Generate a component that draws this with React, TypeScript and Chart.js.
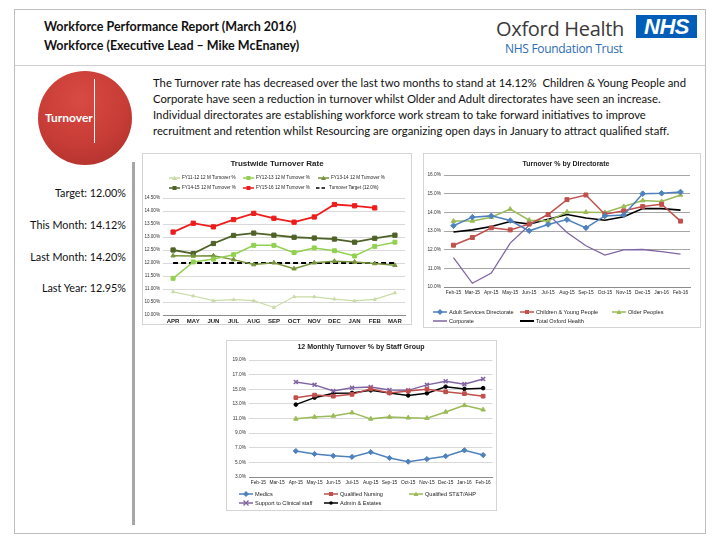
import React, { useEffect, useRef } from "react";
import { Chart, registerables } from "chart.js";
Chart.register(...registerables);

const CHART_FONT = "'Liberation Sans', Arial, sans-serif";
const SLIDE_FONT = "Lato, 'Open Sans', sans-serif";

// ---- Trustwide Turnover Rate ----
const fyMonths = ["APR", "MAY", "JUN", "JUL", "AUG", "SEP", "OCT", "NOV", "DEC", "JAN", "FEB", "MAR"];
const fy1112 = [10.89, 10.73, 10.55, 10.59, 10.55, 10.29, 10.7, 10.7, 10.61, 10.54, 10.6, 10.85];
const fy1213 = [11.41, 12.04, 12.15, 12.32, 12.68, 12.68, 12.4, 12.58, 12.47, 12.27, 12.64, 12.8];
const fy1314 = [12.28, 12.27, 12.28, 12.13, 11.94, 12.01, 11.78, 12.01, 12.07, 12.04, 11.98, 11.91];
const fy1415 = [12.5, 12.36, 12.75, 13.06, 13.15, 13.07, 12.99, 12.96, 12.92, 12.8, 12.95, 13.07];
const fy1516 = [13.19, 13.53, 13.39, 13.67, 13.91, 13.72, 13.57, 13.77, 14.25, 14.2, 14.12, null];
const turnoverTarget = [12.0, 12.0, 12.0, 12.0, 12.0, 12.0, 12.0, 12.0, 12.0, 12.0, 12.0, 12.0];

// ---- Turnover % by Directorate ----
const rollingMonths = ["Feb-15", "Mar-15", "Apr-15", "May-15", "Jun-15", "Jul-15", "Aug-15", "Sep-15", "Oct-15", "Nov-15", "Dec-15", "Jan-16", "Feb-16"];
const adultServices = [13.28, 13.74, 13.81, 13.56, 13.01, 13.35, 13.61, 13.17, 13.81, 13.86, 15.0, 15.02, 15.09];
const childrenYoung = [12.24, 12.65, 13.17, 13.06, 13.37, 13.88, 14.68, 14.93, 13.9, 14.08, 14.31, 14.43, 13.53];
const olderPeoples = [13.53, 13.54, 13.74, 14.17, 13.58, 13.53, 14.02, 14.01, 13.99, 14.31, 14.63, 14.58, 14.93];
const corporate = [11.57, 10.2, 10.75, 12.35, 13.31, 13.9, 12.92, 12.21, 11.71, 11.99, 12.01, 11.9, 11.76];
const totalOxford = [12.95, 13.06, 13.24, 13.51, 13.37, 13.63, 13.88, 13.7, 13.58, 13.76, 14.2, 14.2, 14.12];

// ---- 12 Monthly Turnover % by Staff Group ----
const medics = [null, null, 6.55, 6.15, 5.9, 5.75, 6.4, 5.6, 5.1, 5.45, 5.85, 6.65, 6.0];
const qualifiedNursing = [null, null, 13.85, 14.2, 14.05, 14.3, 15.05, 14.5, 14.75, 15.0, 14.65, 14.4, 14.05];
const qualifiedSTT = [null, null, 10.95, 11.2, 11.35, 11.8, 10.95, 11.2, 11.1, 11.05, 11.9, 12.8, 12.2];
const supportClinical = [null, null, 16.0, 15.6, 14.75, 15.2, 15.3, 14.9, 14.85, 15.6, 16.1, 15.7, 16.4];
const adminEstates = [null, null, 12.9, 13.85, 14.45, 14.5, 14.85, 14.5, 14.15, 14.45, 15.35, 15.05, 15.15];

type DS = {
  label: string;
  data: (number | null)[];
  color: string;
  marker: string | false;
  radius: number;
  width: number;
  dash?: number[];
};

type Plot = { left: number; top: number; right: number; bottom: number };

function LineChart(props: {
  w: number;
  h: number;
  labels: string[];
  datasets: DS[];
  min: number;
  max: number;
  step: number;
  decimals: number;
  plot: Plot;
  xFont: number;
  xBold: boolean;
  yFont: number;
  gridColor: string;
  xPad: number;
}) {
  const ref = useRef<HTMLCanvasElement>(null);
  useEffect(() => {
    const p = props;
    const chart = new Chart(ref.current as HTMLCanvasElement, {
      type: "line",
      data: {
        labels: p.labels,
        datasets: p.datasets.map((d) => ({
          label: d.label,
          data: d.data,
          borderColor: d.color,
          backgroundColor: d.color,
          pointBackgroundColor: d.color,
          pointBorderColor: d.color,
          pointStyle: d.marker === false ? false : (d.marker as any),
          pointRadius: d.marker === false ? 0 : d.radius,
          pointBorderWidth: d.marker === "crossRot" ? 1.5 : 1,
          borderWidth: d.width,
          borderDash: d.dash || [],
          tension: 0,
          fill: false,
          spanGaps: false,
        })),
      },
      options: {
        responsive: false,
        animation: false,
        maintainAspectRatio: false,
        layout: { padding: { left: 0, top: p.plot.top, right: p.w - p.plot.right, bottom: 0 } },
        plugins: { legend: { display: false }, tooltip: { enabled: false }, title: { display: false } },
        scales: {
          x: {
            type: "category",
            offset: true,
            grid: { display: false, drawTicks: false },
            border: { display: true, color: "#8c8c8c", width: 1 },
            ticks: {
              font: { family: CHART_FONT, size: p.xFont, weight: p.xBold ? "bold" : "normal" },
              color: "#222",
              maxRotation: 0,
              minRotation: 0,
              autoSkip: false,
              padding: p.xPad,
            },
            afterFit: (s: any) => {
              s.height = p.h - p.plot.bottom;
            },
          },
          y: {
            min: p.min,
            max: p.max,
            ticks: {
              stepSize: p.step,
              font: { family: CHART_FONT, size: p.yFont },
              color: "#333",
              padding: 3,
              callback: (v: any) => Number(v).toFixed(p.decimals) + "%",
            },
            grid: { color: p.gridColor, drawTicks: false, lineWidth: 1 },
            border: { display: false },
            afterFit: (s: any) => {
              s.width = p.plot.left;
            },
          },
        },
      },
    });
    return () => chart.destroy();
  }, []);
  return (
    <canvas
      ref={ref}
      width={props.w}
      height={props.h}
      style={{ position: "absolute", left: 0, top: 0, width: props.w, height: props.h }}
    />
  );
}

type LegendItem = { text: string; color: string; marker: string | false; x: number; y: number; dash?: boolean; lw?: number };

function Mark(props: { color: string; marker: string | false; dash?: boolean; lw?: number; len: number }) {
  const c = props.color;
  const m = props.marker;
  const L = props.len;
  const cx = L / 2;
  return (
    <svg width={L} height={8} style={{ position: "absolute", left: 0, top: -4 }}>
      <line x1={0} y1={4} x2={L} y2={4} stroke={c} strokeWidth={props.lw || 1.5} strokeDasharray={props.dash ? "3.5 2" : undefined} />
      {m === "rect" && <rect x={cx - 2} y={2} width={4} height={4} fill={c} />}
      {m === "triangle" && <polygon points={`${cx},1.5 ${cx + 2.5},6 ${cx - 2.5},6`} fill={c} />}
      {m === "rectRot" && <polygon points={`${cx},1 ${cx + 3},4 ${cx},7 ${cx - 3},4`} fill={c} />}
      {m === "crossRot" && (
        <g stroke={c} strokeWidth={1.2}>
          <line x1={cx - 2.5} y1={1.5} x2={cx + 2.5} y2={6.5} />
          <line x1={cx + 2.5} y1={1.5} x2={cx - 2.5} y2={6.5} />
        </g>
      )}
      {m === "circle" && <circle cx={cx} cy={4} r={1.8} fill={c} />}
    </svg>
  );
}

function Legend(props: { items: LegendItem[]; size: number; len: number }) {
  return (
    <>
      {props.items.map((it, i) => (
        <div key={i} style={{ position: "absolute", left: it.x, top: it.y, height: 0 }}>
          <Mark color={it.color} marker={it.marker} dash={it.dash} lw={it.lw} len={props.len} />
          <span
            style={{
              position: "absolute",
              left: props.len + 2,
              top: -props.size * 0.62,
              whiteSpace: "nowrap",
              fontFamily: CHART_FONT,
              fontSize: props.size,
              lineHeight: "1.2",
              color: "#222",
            }}
          >
            {it.text}
          </span>
        </div>
      ))}
    </>
  );
}

function ChartTitle(props: { text: string; cx: number; y: number; size: number }) {
  return (
    <div
      style={{
        position: "absolute",
        left: props.cx - 100,
        width: 200,
        top: props.y - props.size * 0.65,
        textAlign: "center",
        fontFamily: CHART_FONT,
        fontWeight: "bold",
        fontSize: props.size,
        color: "#222",
        whiteSpace: "nowrap",
      }}
    >
      {props.text}
    </div>
  );
}

const frameStyle = (l: number, t: number, w: number, h: number): React.CSSProperties => ({
  position: "absolute",
  left: l,
  top: t,
  width: w,
  height: h,
  border: "1px solid #d4d4d4",
  boxSizing: "border-box",
  background: "#fff",
  overflow: "hidden",
});

const c1 = { green1: "#c9dba6", green2: "#92d050", green3: "#77933c", olive: "#4f6228", red: "#ee1c1c" };
const c2 = { blue: "#4f81bd", red: "#c0504d", green: "#9bbb59", purple: "#8064a2", black: "#000000" };

export default function App() {
  const ds1: DS[] = [
    { label: "FY11-12 12 M Turnover %", data: fy1112, color: c1.green1, marker: "triangle", radius: 1.8, width: 1.2 },
    { label: "FY12-13 12 M Turnover %", data: fy1213, color: c1.green2, marker: "rect", radius: 2.8, width: 1.5 },
    { label: "FY13-14 12 M Turnover %", data: fy1314, color: c1.green3, marker: "triangle", radius: 2.5, width: 1.5 },
    { label: "FY14-15 12 M Turnover %", data: fy1415, color: c1.olive, marker: "rect", radius: 3, width: 1.8 },
    { label: "FY15-16 12 M Turnover %", data: fy1516, color: c1.red, marker: "rect", radius: 3, width: 1.8 },
    { label: "Turnover Target (12.0%)", data: turnoverTarget, color: "#000", marker: false, radius: 0, width: 1.8, dash: [5, 3] },
  ];
  const ds2: DS[] = [
    { label: "Adult Services Directorate", data: adultServices, color: c2.blue, marker: "rectRot", radius: 2.8, width: 1.5 },
    { label: "Children & Young People", data: childrenYoung, color: c2.red, marker: "rect", radius: 2.8, width: 1.5 },
    { label: "Older Peoples", data: olderPeoples, color: c2.green, marker: "triangle", radius: 2.6, width: 1.5 },
    { label: "Corporate", data: corporate, color: c2.purple, marker: false, radius: 0, width: 1.3 },
    { label: "Total Oxford Health", data: totalOxford, color: c2.black, marker: false, radius: 0, width: 1.6 },
  ];
  const ds3: DS[] = [
    { label: "Medics", data: medics, color: c2.blue, marker: "rectRot", radius: 2.6, width: 1.5 },
    { label: "Qualified Nursing", data: qualifiedNursing, color: c2.red, marker: "rect", radius: 2.6, width: 1.5 },
    { label: "Qualified ST&T/AHP", data: qualifiedSTT, color: c2.green, marker: "triangle", radius: 2.6, width: 1.5 },
    { label: "Support to Clinical staff", data: supportClinical, color: c2.purple, marker: "crossRot", radius: 2.8, width: 1.5 },
    { label: "Admin & Estates", data: adminEstates, color: c2.black, marker: "circle", radius: 1.8, width: 1.5 },
  ];

  const leg1: LegendItem[] = [
    { text: ds1[0].label, color: c1.green1, marker: "triangle", x: 26, y: 24 },
    { text: ds1[1].label, color: c1.green2, marker: "rect", x: 100, y: 24 },
    { text: ds1[2].label, color: c1.green3, marker: "triangle", x: 175, y: 24 },
    { text: ds1[3].label, color: c1.olive, marker: "rect", x: 26, y: 34 },
    { text: ds1[4].label, color: c1.red, marker: "rect", x: 100, y: 34 },
    { text: ds1[5].label, color: "#000", marker: false, x: 173, y: 34, dash: true },
  ];
  const leg2: LegendItem[] = [
    { text: ds2[0].label, color: c2.blue, marker: "rectRot", x: 9, y: 158 },
    { text: ds2[1].label, color: c2.red, marker: "rect", x: 96, y: 158 },
    { text: ds2[2].label, color: c2.green, marker: "triangle", x: 188, y: 158 },
    { text: ds2[3].label, color: c2.purple, marker: false, x: 9, y: 167 },
    { text: ds2[4].label, color: "#000", marker: false, x: 96, y: 167, lw: 2 },
  ];
  const leg3: LegendItem[] = [
    { text: ds3[0].label, color: c2.blue, marker: "rectRot", x: 12, y: 153 },
    { text: ds3[1].label, color: c2.red, marker: "rect", x: 97, y: 153 },
    { text: ds3[2].label, color: c2.green, marker: "triangle", x: 182, y: 153 },
    { text: ds3[3].label, color: c2.purple, marker: "crossRot", x: 12, y: 162 },
    { text: ds3[4].label, color: "#000", marker: "circle", x: 97, y: 162 },
  ];

  const para = [
    "The Turnover rate has decreased over the last two months to stand at 14.12%  Children & Young People and",
    "Corporate have seen a reduction in turnover whilst Older and Adult directorates have seen an increase.",
    "Individual directorates are establishing workforce work stream to take forward initiatives to improve",
    "recruitment and retention whilst Resourcing are organizing open days in January to attract qualified staff.",
  ];
  const stats = ["Target: 12.00%", "This Month: 14.12%", "Last Month: 14.20%", "Last Year: 12.95%"];
  const statY = [193, 225, 257, 288];

  return (
    <div
      style={{
        position: "absolute",
        left: 0,
        top: 0,
        width: 720,
        height: 540,
        background: "#fff",
        overflow: "hidden",
        fontFamily: SLIDE_FONT,
      }}
    >
      {/* outer border */}
      <div style={{ position: "absolute", left: 14, top: 9, width: 692, height: 525, border: "1px solid #bdbdbd", boxSizing: "border-box" }} />
      <div style={{ position: "absolute", left: 14, top: 65, width: 692, height: 1, background: "#cfcfcf" }} />

      {/* header */}
      <div style={{ position: "absolute", left: 44, top: 17, fontSize: 12.5, fontWeight: 700, lineHeight: "19px", color: "#111", whiteSpace: "nowrap" }}>
        <div>Workforce Performance Report (March 2016)</div>
        <div>Workforce (Executive Lead – Mike McEnaney)</div>
      </div>
      <div style={{ position: "absolute", left: 496, top: 16, fontSize: 20, fontFamily: "'Open Sans', sans-serif", color: "#3a3a3a", lineHeight: "26px", whiteSpace: "nowrap", letterSpacing: -0.3 }}>
        Oxford Health
      </div>
      <div style={{ position: "absolute", left: 505, top: 41, fontSize: 12, fontFamily: "'Open Sans', sans-serif", color: "#2b6cb5", lineHeight: "16px", whiteSpace: "nowrap", letterSpacing: -0.3 }}>
        NHS Foundation Trust
      </div>
      <div style={{ position: "absolute", left: 636, top: 15, width: 61, height: 23, background: "#005eb8" }}>
        <div style={{ position: "absolute", left: 0, width: 61, top: -1, textAlign: "center", color: "#fff", fontFamily: "'Liberation Sans', Arial, sans-serif", fontWeight: 700, fontStyle: "italic", fontSize: 22, lineHeight: "25px", letterSpacing: -0.5 }}>
          NHS
        </div>
      </div>

      {/* turnover circle */}
      <div
        style={{
          position: "absolute",
          left: 38,
          top: 71,
          width: 94,
          height: 94,
          borderRadius: "50%",
          background: "radial-gradient(circle at 45% 30%, #d84a42 0%, #c73c36 55%, #a92e2a 100%)",
        }}
      />
      <div style={{ position: "absolute", left: 94, top: 79, width: 1, height: 64, background: "#fff" }} />
      <div style={{ position: "absolute", left: 45, top: 110, fontSize: 12, fontWeight: 700, color: "#fff", whiteSpace: "nowrap", lineHeight: "16px" }}>
        Turnover
      </div>

      {/* paragraph */}
      {para.map((t, i) => (
        <div key={i} style={{ position: "absolute", left: 153, top: 76 + i * 16, fontSize: 11.3, lineHeight: "14px", color: "#111", whiteSpace: "pre" }}>
          {t}
        </div>
      ))}

      {/* stats */}
      {stats.map((t, i) => (
        <div key={i} style={{ position: "absolute", right: 720 - 126, top: statY[i] - 7, fontSize: 10.8, lineHeight: "14px", color: "#111", whiteSpace: "nowrap", textAlign: "right" }}>
          {t}
        </div>
      ))}
      <div style={{ position: "absolute", left: 132, top: 162, width: 3, height: 363, background: "#a6a6a6" }} />

      {/* chart 1 */}
      <div style={frameStyle(142, 153, 270, 172)}>
        <LineChart
          w={270}
          h={172}
          labels={fyMonths}
          datasets={ds1}
          min={10}
          max={14.5}
          step={0.5}
          decimals={2}
          plot={{ left: 20, top: 44, right: 262, bottom: 161 }}
          xFont={6}
          xBold={true}
          yFont={4.6}
          gridColor="#d9d9d9"
          xPad={3}
        />
        <ChartTitle text="Trustwide Turnover Rate" cx={134} y={10} size={8} />
        <Legend items={leg1} size={4.6} len={11} />
      </div>

      {/* chart 2 */}
      <div style={frameStyle(423, 153, 278, 175)}>
        <LineChart
          w={278}
          h={175}
          labels={rollingMonths}
          datasets={ds2}
          min={10}
          max={16}
          step={1}
          decimals={1}
          plot={{ left: 20, top: 21, right: 266, bottom: 133 }}
          xFont={4.8}
          xBold={false}
          yFont={4.8}
          gridColor="#a6a6a6"
          xPad={3}
        />
        <ChartTitle text="Turnover % by Directorate" cx={142} y={11} size={7} />
        <Legend items={leg2} size={5.6} len={14} />
      </div>

      {/* chart 3 */}
      <div style={frameStyle(226, 340, 271, 171)}>
        <LineChart
          w={271}
          h={171}
          labels={rollingMonths}
          datasets={ds3}
          min={3}
          max={19}
          step={2}
          decimals={1}
          plot={{ left: 22, top: 19, right: 267, bottom: 136 }}
          xFont={4.8}
          xBold={false}
          yFont={4.8}
          gridColor="#d9d9d9"
          xPad={3}
        />
        <ChartTitle text="12 Monthly Turnover %  by Staff Group" cx={134} y={7} size={7} />
        <Legend items={leg3} size={5.6} len={14} />
      </div>
    </div>
  );
}
